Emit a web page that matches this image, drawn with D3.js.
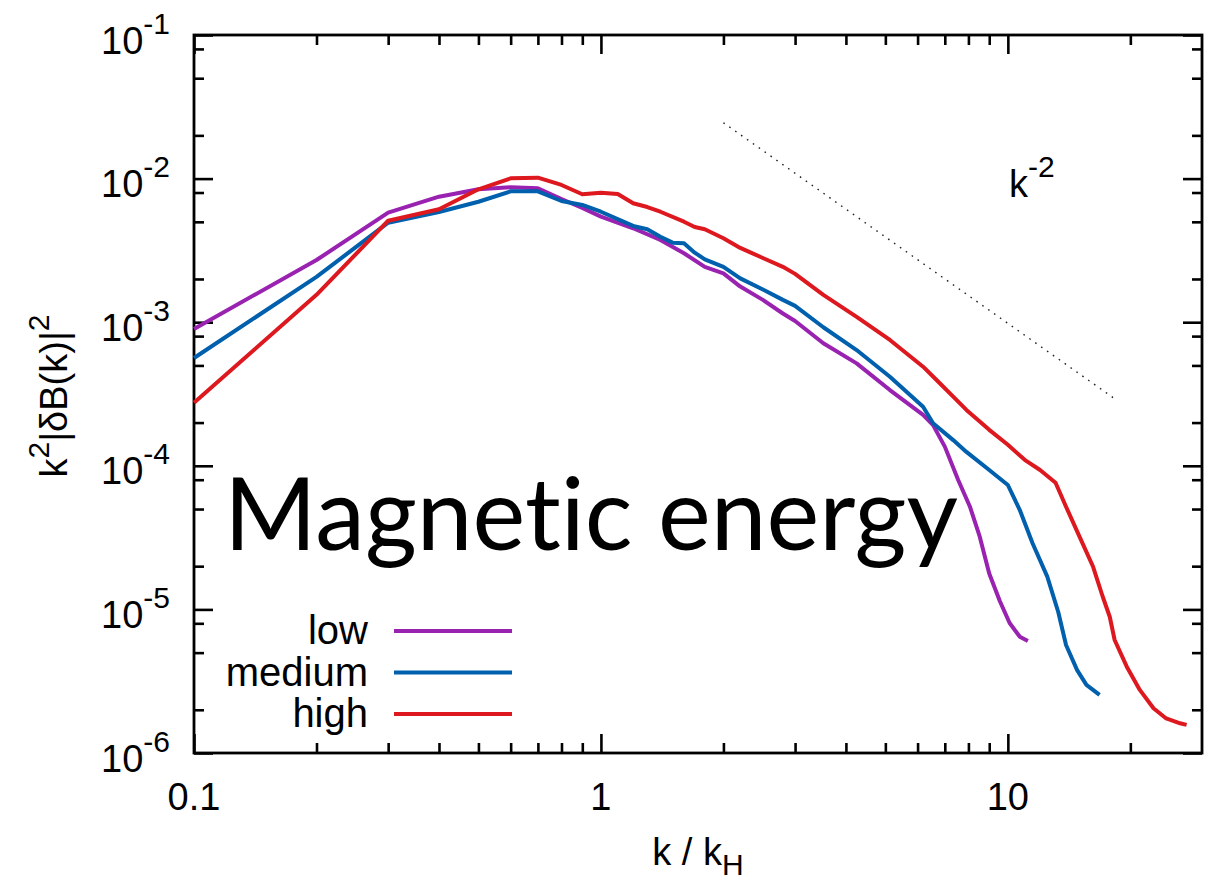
<!DOCTYPE html>
<html><head><meta charset="utf-8">
<script src="https://cdn.jsdelivr.net/npm/d3@7"></script>
<style>
body{margin:0;background:#fff}
svg text{font-family:"Liberation Sans",Arial,Helvetica,sans-serif;fill:#000}
</style>
</head><body>
<svg id="chart" width="1229" height="884"></svg>
<script>
// ---------- data ----------
const seriesNames = ["low", "medium", "high"];
const seriesColors = ["#9a22b0", "#0060ad", "#dd181f"];

const lowK = [0.1,0.2,0.3,0.4,0.5,0.6,0.7,0.8,0.9,1.0,1.2,1.4,1.6,1.8,2.0,2.2,2.5,2.8,3.0,3.52,4.25,5.13,6.19,6.55,7.0,7.55,8.07,8.53,9.0,9.56,10.1,10.7,11.2];
const lowV = [8.97e-4,2.71e-3,5.79e-3,7.48e-3,8.42e-3,8.70e-3,8.56e-3,7.21e-3,6.24e-3,5.43e-3,4.51e-3,3.74e-3,3.02e-3,2.43e-3,2.19e-3,1.77e-3,1.43e-3,1.15e-3,1.02e-3,7.13e-4,5.17e-4,3.37e-4,2.26e-4,1.92e-4,1.36e-4,7.96e-5,5.19e-5,3.21e-5,1.78e-5,1.14e-5,8.04e-6,6.45e-6,6.02e-6];

const mediumK = [0.1,0.2,0.3,0.4,0.5,0.6,0.7,0.8,0.9,1.0,1.2,1.3,1.4,1.5,1.6,1.7,1.8,2.0,2.2,2.5,2.8,3.0,3.52,4.25,5.13,6.19,6.55,7.34,7.91,9.0,10.0,10.7,11.5,12.5,13.3,13.9,14.8,15.6,16.8];
const mediumV = [5.63e-4,2.07e-3,4.93e-3,5.85e-3,6.90e-3,8.15e-3,8.15e-3,6.98e-3,6.55e-3,5.88e-3,4.68e-3,4.44e-3,3.94e-3,3.58e-3,3.54e-3,3.05e-3,2.74e-3,2.43e-3,2.02e-3,1.69e-3,1.43e-3,1.30e-3,9.22e-4,6.40e-4,4.17e-4,2.58e-4,1.98e-4,1.51e-4,1.25e-4,9.35e-5,7.35e-5,4.92e-5,2.89e-5,1.69e-5,9.59e-6,5.65e-6,3.78e-6,2.98e-6,2.54e-6];

const highK = [0.1,0.2,0.3,0.4,0.5,0.6,0.7,0.8,0.9,1.0,1.1,1.2,1.3,1.4,1.6,1.7,1.8,2.0,2.2,2.5,2.8,3.0,3.52,4.25,5.13,6.19,6.68,7.34,7.91,9.0,10.0,11.0,12.0,13.1,13.9,15.0,16.2,17.1,17.8,18.3,19.6,21.1,22.8,24.5,26.5,27.5];
const highV = [2.75e-4,1.55e-3,5.09e-3,6.11e-3,8.42e-3,1.005e-2,1.015e-2,9.03e-3,7.78e-3,7.98e-3,7.81e-3,6.73e-3,6.34e-3,5.88e-3,5.01e-3,4.60e-3,4.44e-3,3.84e-3,3.29e-3,2.80e-3,2.43e-3,2.17e-3,1.55e-3,1.09e-3,7.52e-4,4.90e-4,3.96e-4,3.03e-4,2.45e-4,1.78e-4,1.40e-4,1.10e-4,9.35e-5,7.62e-5,5.19e-5,3.21e-5,1.98e-5,1.23e-5,8.89e-6,6.12e-6,3.99e-6,2.75e-6,2.05e-6,1.74e-6,1.61e-6,1.57e-6];

// k^-2 reference line end points
const refK = [2.0, 18.5];
const refV = [2.45e-2, 2.87e-4];

// ticks
const xMajorTicks = [0.1, 1, 10];
const xMajorLabels = ["0.1", "1", "10"];
const xMinorTicks = [0.2,0.3,0.4,0.5,0.6,0.7,0.8,0.9,2,3,4,5,6,7,8,9,20];
const yMajorTicks = [1e-6,1e-5,1e-4,1e-3,1e-2,1e-1];
const yMajorExp = ["-6","-5","-4","-3","-2","-1"];
const yMinorTicks = [2e-6,5e-6,8e-6,2e-5,5e-5,8e-5,2e-4,5e-4,8e-4,2e-3,5e-3,8e-3,2e-2,5e-2,8e-2];

// ---------- layout ----------
const L = 194, R = 1202, T = 35, B = 753;
const svg = d3.select("#chart");
const x = d3.scaleLog().domain([0.1, 30]).range([L, R]);
const y = d3.scaleLog().domain([1e-6, 1e-1]).range([B, T]);

function styleAxis(g){
  g.select(".domain").remove();
  g.selectAll("line").attr("stroke", "#000").attr("stroke-width", 2.6);
  g.selectAll("text").remove();
}
const majLen = 19, minLen = 10;
[[d3.axisBottom, B, xMajorTicks, majLen], [d3.axisBottom, B, xMinorTicks, minLen],
 [d3.axisTop, T, xMajorTicks, majLen], [d3.axisTop, T, xMinorTicks, minLen]].forEach(([ax, pos, vals, len]) => {
  svg.append("g").attr("transform", `translate(0,${pos})`)
    .call(ax(x).tickValues(vals).tickSize(-len).tickFormat(""))
    .call(styleAxis);
});
[[d3.axisLeft, L, yMajorTicks, majLen], [d3.axisLeft, L, yMinorTicks, minLen],
 [d3.axisRight, R, yMajorTicks, majLen], [d3.axisRight, R, yMinorTicks, minLen]].forEach(([ax, pos, vals, len]) => {
  svg.append("g").attr("transform", `translate(${pos},0)`)
    .call(ax(y).tickValues(vals).tickSize(-len).tickFormat(""))
    .call(styleAxis);
});

// border
svg.append("rect").attr("x", L).attr("y", T).attr("width", R - L).attr("height", B - T)
  .attr("fill", "none").attr("stroke", "#000").attr("stroke-width", 2.8);

// tick labels
svg.append("g").selectAll("text").data(xMajorTicks).join("text")
  .attr("x", d => x(d)).attr("y", 810).attr("text-anchor", "middle")
  .attr("font-size", 38).text((d, i) => xMajorLabels[i]);

const yl = svg.append("g").selectAll("text").data(yMajorTicks).join("text")
  .attr("x", 170).attr("y", d => y(d) + 18.5).attr("text-anchor", "end").attr("font-size", 38);
yl.append("tspan").text("10");
yl.append("tspan").attr("font-size", 30).attr("dy", -20).text((d, i) => yMajorExp[i]);

// axis titles
const xt = svg.append("text").attr("x", (L + R) / 2).attr("y", 865).attr("text-anchor", "middle").attr("font-size", 38);
xt.append("tspan").text("k / k");
xt.append("tspan").attr("font-size", 30).attr("dy", 10).text("H");

const yt = svg.append("text").attr("transform", `translate(67,${(T + B) / 2 + 2}) rotate(-90)`)
  .attr("text-anchor", "middle").attr("font-size", 38);
yt.append("tspan").text("k");
yt.append("tspan").attr("font-size", 30).attr("dy", -18).text("2");
yt.append("tspan").attr("dy", 18).text("|δB(k)|");
yt.append("tspan").attr("font-size", 30).attr("dy", -18).text("2");

// curves
const line = d3.line().x(d => x(d[0])).y(d => y(d[1]));
const seriesData = [d3.zip(lowK, lowV), d3.zip(mediumK, mediumV), d3.zip(highK, highV)];
seriesData.forEach((pts, i) => {
  svg.append("path").datum(pts).attr("d", line)
    .attr("fill", "none").attr("stroke", seriesColors[i]).attr("stroke-width", 4)
    .attr("stroke-linejoin", "round").attr("stroke-linecap", "butt");
});

// k^-2 dotted reference
svg.append("path").datum(d3.zip(refK, refV)).attr("d", line)
  .attr("fill", "none").attr("stroke", "#222").attr("stroke-width", 1.4)
  .attr("stroke-dasharray", "1.6,5.6");
const kl = svg.append("text").attr("x", 1009).attr("y", 197).attr("font-size", 38);
kl.append("tspan").text("k");
kl.append("tspan").attr("font-size", 30).attr("dy", -20).text("-2");

// legend
const legY = [644, 685.5, 727];
seriesNames.forEach((n, i) => {
  svg.append("text").attr("x", 368).attr("y", legY[i]).attr("text-anchor", "end")
    .attr("font-size", 40).text(n);
  svg.append("line").attr("x1", 394).attr("x2", 512).attr("y1", legY[i] - 13).attr("y2", legY[i] - 13)
    .attr("stroke", seriesColors[i]).attr("stroke-width", 4);
});

// big title
const title = svg.append("text").attr("x", 224).attr("y", 550)
  .style("font-family", "Lato, 'Open Sans', sans-serif")
  .style("font-variant-ligatures", "none").style("font-feature-settings", "'liga' 0")
  .attr("font-size", 100).text("Magnetic energy");
const w = title.node().getComputedTextLength();
title.attr("font-size", 100 * 734 / w);
</script>
</body></html>
